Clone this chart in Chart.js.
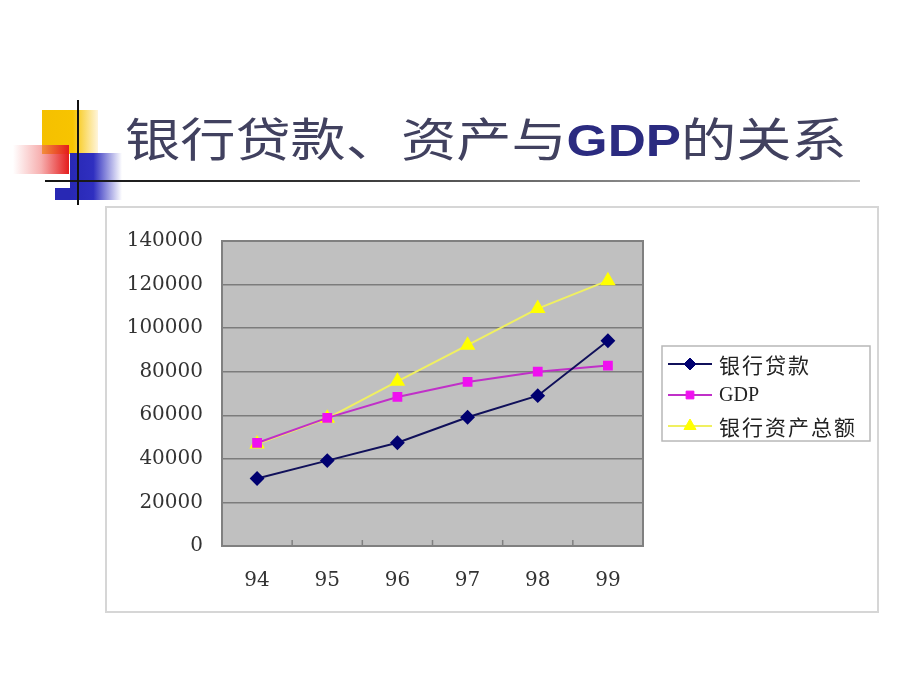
<!DOCTYPE html>
<html>
<head>
<meta charset="utf-8">
<script src="https://cdn.jsdelivr.net/npm/chart.js@4.4.0/dist/chart.umd.min.js"></script>
<style>
body { margin: 0; width: 920px; height: 690px; background: #fff; position: relative; overflow: hidden; }
.deco { position: absolute; }
#yellow { left: 42px; top: 110px; width: 56px; height: 44px; background: linear-gradient(to right, #f5c000 0%, #f7c400 55%, rgba(255, 215, 110, 0.25) 100%); }
#blue { left: 70px; top: 153px; width: 52px; height: 47px; background: linear-gradient(to right, #2828b4 0%, #2f2fc0 45%, rgba(70, 70, 210, 0) 100%); }
#blue2 { left: 55px; top: 188px; width: 16px; height: 12px; background: #2828b4; }
#red { left: 13px; top: 145px; width: 56px; height: 29px; background: linear-gradient(to right, rgba(255, 255, 255, 0) 0%, rgba(240, 110, 110, 0.55) 50%, #e41c1c 100%); }
#hline { left: 45px; top: 180px; width: 815px; height: 2px; background: linear-gradient(to right, #151515 0%, #333 35%, #c8c8c8 100%); }
#vline { left: 77px; top: 100px; width: 2px; height: 105px; background: #111; }
#title { left: 125px; top: 108px; font-family: 'Noto Sans CJK SC'; font-size: 46px; line-height: 56px; color: #41415f; transform: scaleX(1.2); transform-origin: left center; white-space: nowrap; }
#title b { font-family: 'Liberation Sans'; font-weight: bold; color: #2b2b80; font-size: 44px; }
#box { left: 105px; top: 206px; width: 770px; height: 403px; border: 2px solid #d6d6d6; background: #fff; }
#chart { position: absolute; left: 0; top: 0; }
</style>
</head>
<body>
<div class="deco" id="yellow"></div>
<div class="deco" id="blue"></div>
<div class="deco" id="blue2"></div>
<div class="deco" id="red"></div>
<div class="deco" id="hline"></div>
<div class="deco" id="vline"></div>
<div class="deco" id="title">银行贷款、资产与<b>GDP</b>的关系</div>
<div class="deco" id="box"></div>
<canvas id="chart" width="920" height="690"></canvas>
<script>
// 数据
const years = ['94', '95', '96', '97', '98', '99'];
const bankLoans = [31000, 39200, 47400, 59100, 69000, 94200];
const gdpValues = [47300, 58800, 68400, 75300, 80000, 82800];
const bankAssets = [46800, 58600, 75600, 92200, 109000, 121800];
const seriesNames = ['银行贷款', 'GDP', '银行资产总额'];
const yMin = 0, yMax = 140000, yStep = 20000;

// 绘图区灰色背景、边框和 x 轴刻度
const plotArea = {
    id: 'plotArea',
    beforeDraw(chart) {
        const { ctx, chartArea: a } = chart;
        ctx.save();
        ctx.fillStyle = '#c0c0c0';
        ctx.fillRect(a.left, a.top, a.right - a.left, a.bottom - a.top);
        ctx.restore();
    },
    beforeDatasetsDraw(chart) {
        const { ctx, chartArea: a } = chart;
        const x = chart.scales.x;
        ctx.save();
        ctx.strokeStyle = '#808080';
        ctx.lineWidth = 2;
        ctx.strokeRect(a.left, a.top, a.right - a.left, a.bottom - a.top);
        ctx.lineWidth = 1.5;
        const step = x.getPixelForValue(1) - x.getPixelForValue(0);
        for (let i = 0; i < years.length - 1; i++) {
            const px = x.getPixelForValue(i) + step / 2;
            ctx.beginPath();
            ctx.moveTo(px, a.bottom);
            ctx.lineTo(px, a.bottom - 6);
            ctx.stroke();
        }
        ctx.restore();
    }
};

// 右侧带边框的图例
const boxLegend = {
    id: 'boxLegend',
    afterDraw(chart) {
        const { ctx, chartArea: a } = chart;
        const w = 208, h = 95;
        const left = a.right + 19;
        const top = (a.top + a.bottom) / 2 - h / 2;
        ctx.save();
        ctx.strokeStyle = '#b8b8b8';
        ctx.lineWidth = 1.5;
        ctx.strokeRect(left, top, w, h);
        chart.data.datasets.forEach((ds, i) => {
            const y = top + 18 + i * 31;
            ctx.strokeStyle = ds.borderColor;
            ctx.lineWidth = 2;
            ctx.beginPath();
            ctx.moveTo(left + 6, y);
            ctx.lineTo(left + 50, y);
            ctx.stroke();
            ctx.fillStyle = ds.pointBackgroundColor;
            ctx.strokeStyle = ds.pointBorderColor;
            ctx.lineWidth = 1;
            Chart.helpers.drawPoint(ctx, {
                pointStyle: ds.pointStyle,
                radius: ds.pointRadius,
                rotation: 0,
                borderWidth: 1
            }, left + 28, y);
            ctx.fillStyle = '#222';
            const latin = /^[A-Za-z]+$/.test(ds.label);
            ctx.font = latin ? "20px 'Liberation Serif'" : "21px 'Noto Sans CJK SC'";
            ctx.letterSpacing = latin ? '0px' : '2px';
            ctx.textBaseline = 'middle';
            ctx.fillText(ds.label, left + 57, y + 1);
        });
        ctx.restore();
    }
};

const ctx = document.getElementById('chart').getContext('2d');
new Chart(ctx, {
    type: 'line',
    data: {
        labels: years,
        datasets: [{
            label: seriesNames[0],
            data: bankLoans,
            borderColor: '#10105a',
            borderWidth: 2,
            pointStyle: 'rectRot',
            pointRadius: 6,
            pointBackgroundColor: '#000070',
            pointBorderColor: '#000070',
            tension: 0
        }, {
            label: seriesNames[1],
            data: gdpValues,
            borderColor: '#c030c8',
            borderWidth: 2,
            pointStyle: 'rect',
            pointRadius: 5.5,
            pointBackgroundColor: '#f010f0',
            pointBorderColor: '#f010f0',
            tension: 0
        }, {
            label: seriesNames[2],
            data: bankAssets,
            borderColor: '#f0f060',
            borderWidth: 2,
            pointStyle: 'triangle',
            pointRadius: 7,
            pointBackgroundColor: '#ffff00',
            pointBorderColor: '#ffff00',
            tension: 0
        }]
    },
    options: {
        responsive: false,
        animation: false,
        devicePixelRatio: 1,
        layout: { padding: { left: 0, top: 241, right: 277, bottom: 94 } },
        plugins: {
            legend: { display: false },
            tooltip: { enabled: false }
        },
        scales: {
            x: {
                offset: true,
                grid: { display: false, drawTicks: false },
                border: { display: false },
                ticks: { padding: 23, color: '#333', font: { family: 'DejaVu Serif', size: 20 } },
                afterFit(scale) { scale.height = 50; }
            },
            y: {
                min: yMin,
                max: yMax,
                ticks: {
                    stepSize: yStep,
                    padding: 19,
                    color: '#333',
                    font: { family: 'DejaVu Serif', size: 20 },
                    callback: value => String(value)
                },
                grid: { color: '#7c7c7c', lineWidth: 1.5, drawTicks: false },
                border: { display: false },
                afterFit(scale) { scale.width = 222; }
            }
        }
    },
    plugins: [plotArea, boxLegend]
});
</script>
</body>
</html>
